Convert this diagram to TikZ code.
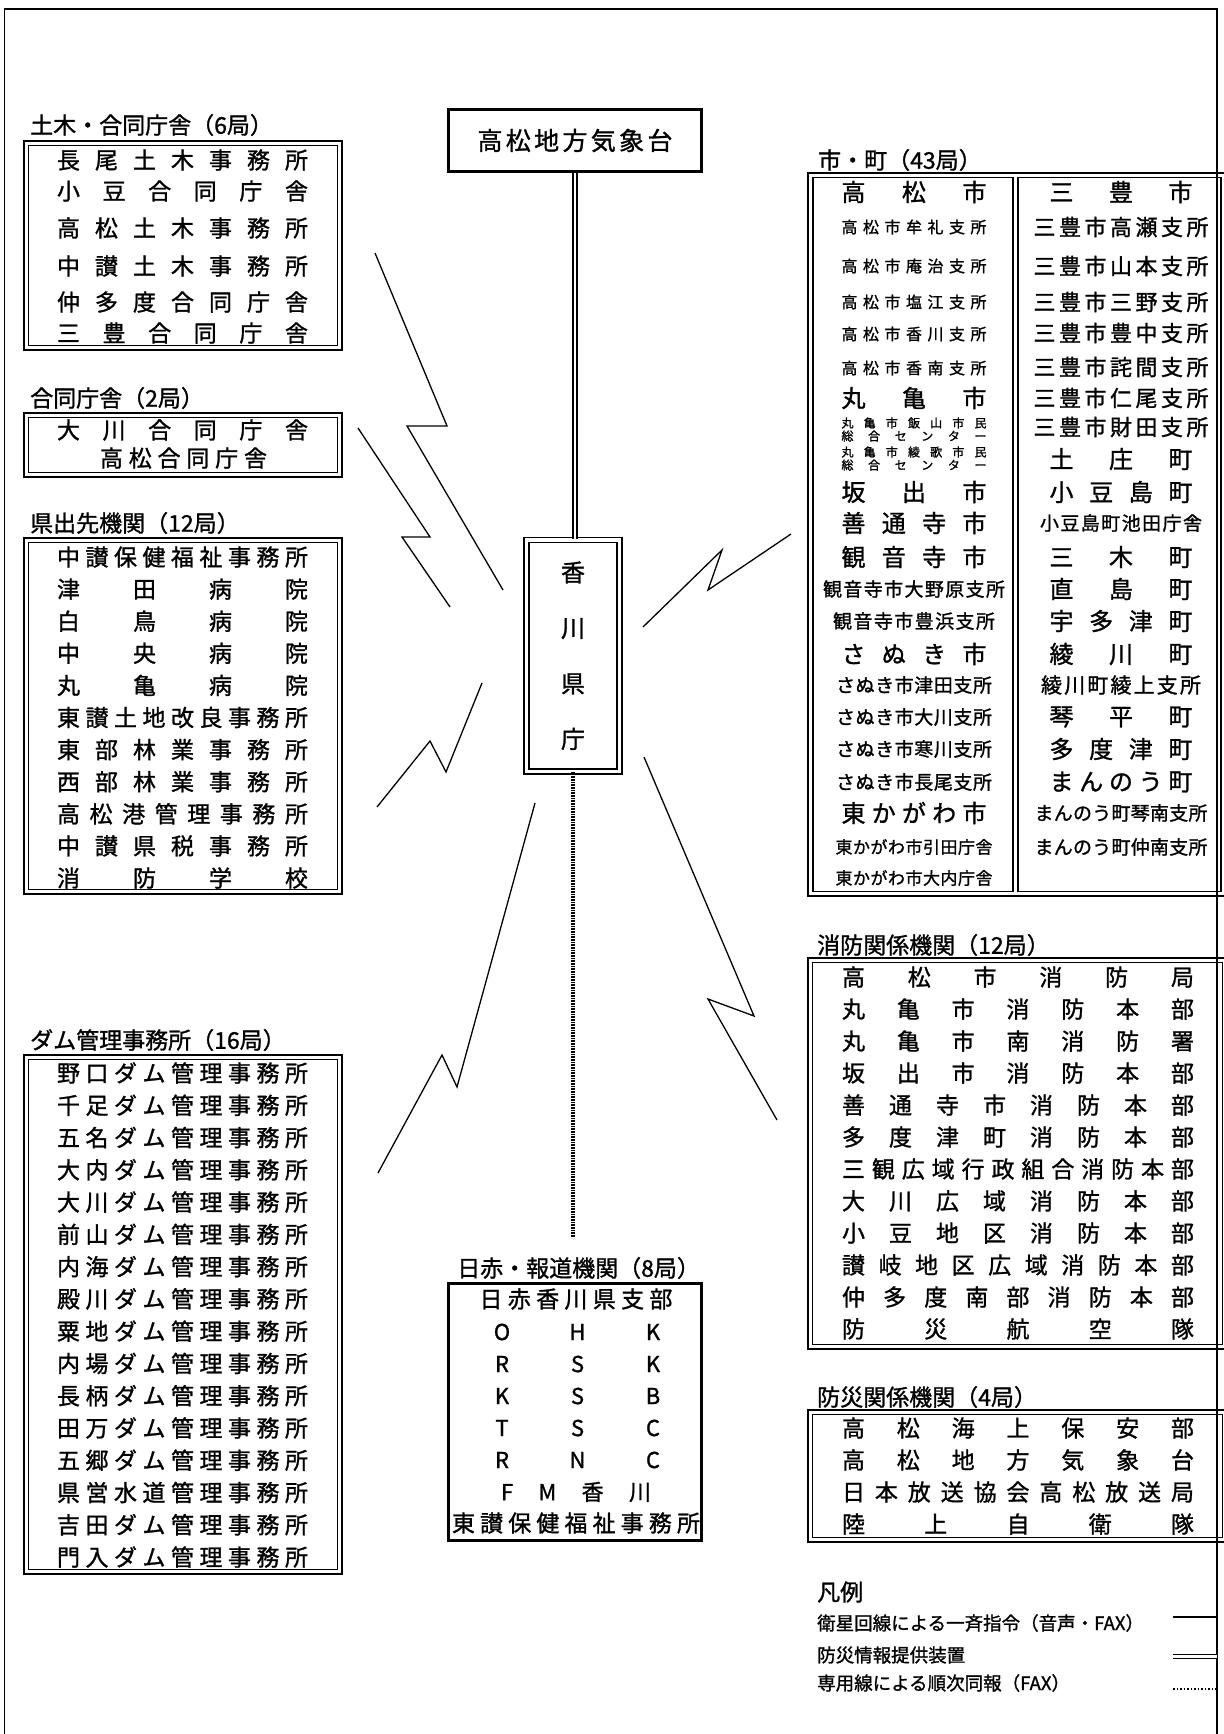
\documentclass[tikz,border=0pt]{standalone}
\usepackage{fontspec}
\setmainfont{Noto Sans CJK JP}[UprightFeatures={FakeBold=1.2}]
\newcommand\fs[1]{\fontsize{#1}{#1}\selectfont}
\newcommand\spread[2]{\makebox[#1][s]{\expandafter\spreadloop#2\relax\unskip}}
\def\spreadloop#1{\ifx\relax#1\else#1\hfill\expandafter\spreadloop\fi}
\newcommand\dblbox[4]{\draw[line width=2.8pt] (#1,#2) rectangle (#3,#4);
  \draw[line width=1.5pt] ({#1+4.5},{#2+4.5}) rectangle ({#3-4.5},{#4-4.5});}
\tikzset{
  rowtxt/.style={inner sep=0pt},
  ttl/.style={inner sep=0pt, anchor=west, font=\fs{23}},
  bolt/.style={line width=1.3pt, line join=miter},
  dbl/.style={double, double distance=2.5pt, line width=1.5pt},
  dotline/.style={line width=3.5pt, dash pattern=on 0.8pt off 0.8pt}
}
\begin{document}
\begin{tikzpicture}[x=1pt,y=-1pt]
\useasboundingbox (0,0) rectangle (1223,1734);
\draw[line width=1.5pt] (4.5,1734) -- (4.5,9) -- (1217,9) -- (1217,1734);

\node[draw, line width=3pt, minimum width=253pt, minimum height=62pt, font=\fs{25}] (wx) at (575,140.5) {\spread{195pt}{高松地方気象台}};
\node[draw, dbl, double distance=3.2pt, line width=1.8pt, minimum width=93pt, minimum height=231.5pt, align=center, font=\fontsize{24}{55.5}\selectfont] (pref) at (573,655.75) {香\\川\\県\\庁};
\draw[dbl] (wx.south) -- (wx.south |- pref.north);
\node[ttl] (tnews) at (457,1268) {日赤・報道機関（8局）};
\coordinate (dotend) at (573,1238);
\draw[dotline] (pref.south) -- (dotend);

\node[ttl] (t1) at (30,125) {土木・合同庁舎（6局）};
\dblbox{24}{141}{342}{350}
\foreach \t/\y [count=\i] in {長尾土木事務所/160,小豆合同庁舎/191,高松土木事務所/228,中讃土木事務所/266,仲多度合同庁舎/302,三豊合同庁舎/333}
  \node[rowtxt, font=\fs{23}] (dk\i) at (182.5,\y) {\spread{251pt}{\t}};

\node[ttl] (t2) at (30,398) {合同庁舎（2局）};
\dblbox{24}{413}{342}{477}
\node[rowtxt, font=\fs{23}] (gd1) at (182.5,430) {\spread{251pt}{大川合同庁舎}};
\node[rowtxt, font=\fs{23}] (gd2) at (183.5,458) {\spread{167pt}{高松合同庁舎}};

\node[ttl] (t3) at (30,523) {県出先機関（12局）};
\dblbox{24}{538}{342}{894}
\foreach \t [count=\i] in {中讃保健福祉事務所,津田病院,白鳥病院,中央病院,丸亀病院,東讃土地改良事務所,東部林業事務所,西部林業事務所,高松港管理事務所,中讃県税事務所,消防学校}
  \node[rowtxt, font=\fs{23}] (kd\i) at (182.5,{557+32.1*(\i-1)}) {\spread{251pt}{\t}};

\node[ttl] (t4) at (30,1040) {ダム管理事務所（16局）};
\dblbox{24}{1055}{342}{1574}
\foreach \t [count=\i] in {野口ダム管理事務所,千足ダム管理事務所,五名ダム管理事務所,大内ダム管理事務所,大川ダム管理事務所,前山ダム管理事務所,内海ダム管理事務所,殿川ダム管理事務所,粟地ダム管理事務所,内場ダム管理事務所,長柄ダム管理事務所,田万ダム管理事務所,五郷ダム管理事務所,県営水道管理事務所,吉田ダム管理事務所,門入ダム管理事務所}
  \node[rowtxt, font=\fs{23}] (dm\i) at (182.5,{1073+32.27*(\i-1)}) {\spread{251pt}{\t}};

\node[ttl] (t5) at (818,160) {市・町（43局）};
\draw[line width=2.8pt] (808,173) rectangle (1227,896);
\draw[line width=1.5pt] (813,177.5) rectangle (1013,891.5);
\draw[line width=1.5pt] (1018,177.5) rectangle (1221,891.5);
\foreach \s/\w/\t/\y [count=\i] in {24/145/高松市/192,16/145/高松市牟礼支所/227,16/145/高松市庵治支所/266,16/145/高松市塩江支所/302,16/145/高松市香川支所/334,16/145/高松市香南支所/368,24/145/丸亀市/398,12/145/丸亀市飯山市民/423,12/145/総合センター/436,12/145/丸亀市綾歌市民/452,12/145/総合センター/465,24/145/坂出市/492,24/145/善通寺市/523,24/145/観音寺市/557,19/182/観音寺市大野原支所/589,19/162/観音寺市豊浜支所/621,24/145/さぬき市/654,19/156/さぬき市津田支所/685,19/156/さぬき市大川支所/717,19/156/さぬき市寒川支所/749,19/156/さぬき市長尾支所/782,24/145/東かがわ市/813,17/157/東かがわ市引田庁舎/847,17/157/東かがわ市大内庁舎/878}
  \node[rowtxt, font=\fs{\s}] (sh\i) at (914,\y) {\spread{\w pt}{\t}};
\foreach \s/\w/\t/\y [count=\i] in {24/143/三豊市/192,22/175/三豊市高瀬支所/227,22/175/三豊市山本支所/266,22/175/三豊市三野支所/302,22/175/三豊市豊中支所/333,22/175/三豊市詫間支所/367,22/175/三豊市仁尾支所/398,22/175/三豊市財田支所/427,24/143/土庄町/459,24/143/小豆島町/492,19/162/小豆島町池田庁舎/523,24/143/三木町/557,24/143/直島町/589,24/143/宇多津町/621,24/143/綾川町/654,21/160/綾川町綾上支所/685,24/143/琴平町/717,24/143/多度津町/749,24/143/まんのう町/782,19/173/まんのう町琴南支所/813,19/173/まんのう町仲南支所/847}
  \node[rowtxt, font=\fs{\s}] (ch\i) at (1121,\y) {\spread{\w pt}{\t}};

\node[ttl] (t6) at (817,945) {消防関係機関（12局）};
\dblbox{808}{958}{1227}{1349}
\foreach \t [count=\i] in {高松市消防局,丸亀市消防本部,丸亀市南消防署,坂出市消防本部,善通寺市消防本部,多度津町消防本部,三観広域行政組合消防本部,大川広域消防本部,小豆地区消防本部,讃岐地区広域消防本部,仲多度南部消防本部,防災航空隊}
  \node[rowtxt, font=\fs{23}] (sb\i) at (1018,{977+32*(\i-1)}) {\spread{352pt}{\t}};

\node[ttl] (t7) at (817,1397) {防災関係機関（4局）};
\dblbox{808}{1410}{1227}{1542}
\foreach \t [count=\i] in {高松海上保安部,高松地方気象台,日本放送協会高松放送局,陸上自衛隊}
  \node[rowtxt, font=\fs{23}] (bs\i) at (1018,{1428+32*(\i-1)}) {\spread{352pt}{\t}};

\node[draw, line width=3pt, minimum width=253pt, minimum height=257pt] (news) at (575,1412) {};
\node[rowtxt, font=\fs{23}] (nw0) at (576,1299) {\spread{193pt}{日赤香川県支部}};
\foreach \a/\b/\c [count=\i] in {O/H/K,R/S/K,K/S/B,T/S/C,R/N/C}
  \node[rowtxt, font=\fs{22}] (nw\i) at (577.5,{1332+32*(\i-1)}) {\makebox[171pt][s]{\makebox[20pt]{\a}\hfill\makebox[20pt]{\b}\hfill\makebox[20pt]{\c}}};
\node[rowtxt, font=\fs{22}] (nw6) at (576,1492) {\spread{150pt}{FM香川}};
\node[rowtxt, font=\fs{23}] (nw7) at (576,1523) {\spread{248pt}{東讃保健福祉事務所}};

\draw[bolt] (375,253) -- (447,426) -- (407,426) -- (503,590);
\draw[bolt] (358,428) -- (430,537) -- (402,537) -- (450,607);
\draw[bolt] (482,683) -- (446,772) -- (430,741) -- (377,807);
\draw[bolt] (535,803) -- (457,1087) -- (442,1055) -- (378,1173);
\draw[bolt] (643,627) -- (722,550) -- (708,590) -- (791,534);
\draw[bolt] (644,757) -- (754,1016) -- (708,999) -- (777,1120);

\node[inner sep=0pt, anchor=west, font=\fs{23}] (lg) at (817,1592) {凡例};
\node[inner sep=0pt, anchor=west, font=\fs{18.5}] (lg1) at (817,1623) {衛星回線による一斉指令（音声・FAX）};
\node[inner sep=0pt, anchor=west, font=\fs{18.5}] (lg2) at (817,1655) {防災情報提供装置};
\node[inner sep=0pt, anchor=west, font=\fs{18.5}] (lg3) at (817,1683) {専用線による順次同報（FAX）};
\draw[bolt] (1173,1617) -- (1217,1617);
\draw[dbl] (1173,1656.5) -- (1217,1656.5);
\draw[dotline, line width=2pt, dash pattern=on 1.5pt off 2pt] (1173,1689) -- (1217,1689);
\end{tikzpicture}
\end{document}
